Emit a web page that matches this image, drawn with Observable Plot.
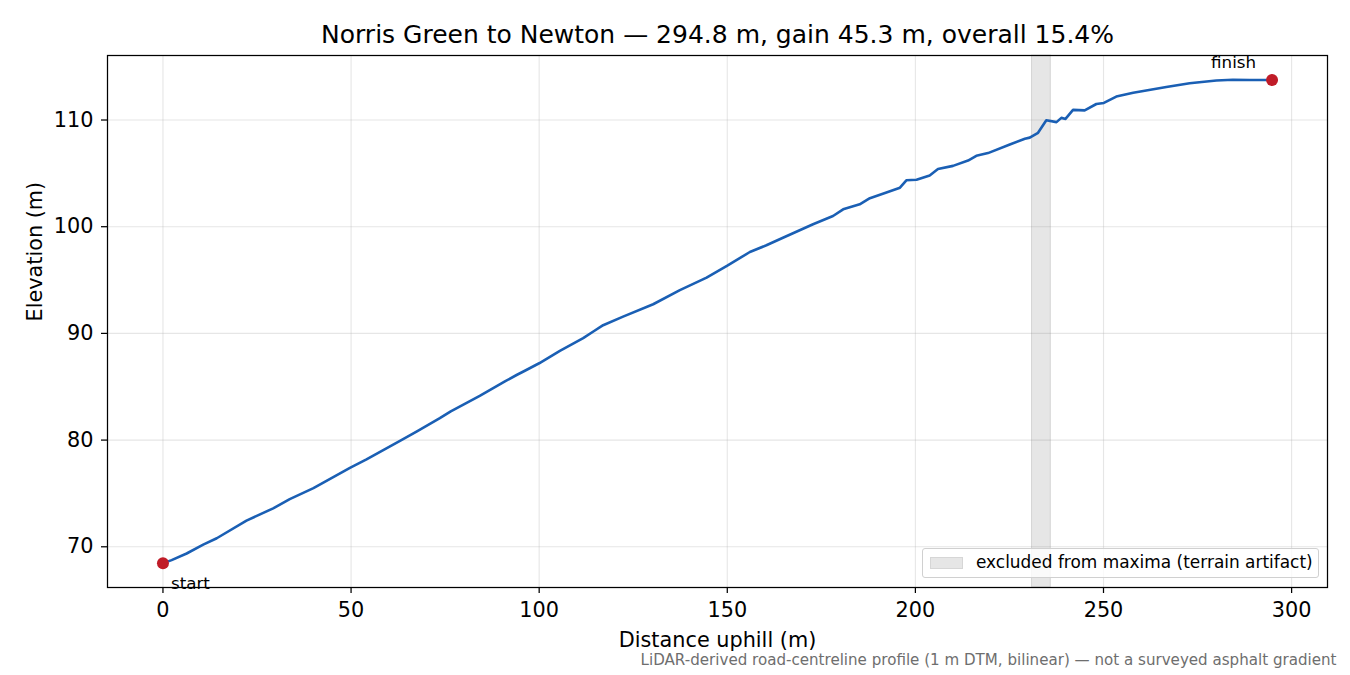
<!DOCTYPE html>
<html>
<head>
<meta charset="utf-8">
<script src="https://cdn.jsdelivr.net/npm/d3@7"></script>
<script src="https://cdn.jsdelivr.net/npm/@observablehq/plot@0.6"></script>
<style>
  html, body { margin: 0; padding: 0; background: white; }
  #wrap { position: relative; width: 1350px; height: 675px; }
  #legend {
    position: absolute; left: 922px; top: 548px; width: 397px; height: 30px;
    border: 1px solid #d0d0d0; border-radius: 3px; background: rgba(255,255,255,0.8);
    font-family: "DejaVu Sans", sans-serif; font-size: 16.95px; color: #000;
    box-sizing: border-box;
  }
  #legend .sw {
    position: absolute; left: 7px; top: 8px; width: 33px; height: 12px;
    background: #e6e6e6; border: 1px solid #d6d6d6; box-sizing: border-box;
  }
  #legend .lb { position: absolute; left: 53px; top: 3px; white-space: nowrap; }
</style>
</head>
<body>
<div id="wrap"></div>
<script>
// Distance uphill (m) and elevation (m)
const dist = [0, 2.3, 6.3, 10.7, 14.3, 22.2, 29.3, 33.7, 40.0, 49.7, 54.1, 63.0, 67.4, 73.6, 76.5,
  84.2, 90.9, 94.0, 96.2, 100, 105.5, 111.7, 114.5, 117.0, 122.3, 130.3, 137.4, 144.5, 149.9,
  156.0, 160.4, 164.8, 172.8, 178.1, 180.8, 185.2, 187.9, 192.3, 195.9, 197.6, 200.3, 203.8,
  206.0, 210.0, 214.0, 216.2, 219.3, 225.1, 229.1, 230.4, 232.6, 234.8, 237.5, 238.8, 239.9,
  241.9, 245.0, 248.1, 250.1, 253.4, 257.9, 266.7, 272.9, 280.0, 284.4, 288.9, 294.8];
const elev = [68.45, 68.75, 69.37, 70.2, 70.8, 72.45, 73.6, 74.47, 75.5, 77.4, 78.2, 79.93, 80.8, 82.05, 82.7,
  84.15, 85.5, 86.1, 86.5, 87.2, 88.36, 89.55, 90.2, 90.77, 91.57, 92.73, 94.05, 95.23, 96.32,
  97.63, 98.26, 98.97, 100.23, 101.0, 101.63, 102.1, 102.67, 103.2, 103.66, 104.35, 104.4, 104.8,
  105.4, 105.7, 106.2, 106.65, 106.9, 107.7, 108.25, 108.35, 108.8, 109.97, 109.8, 110.2, 110.1,
  110.95, 110.9, 111.5, 111.6, 112.2, 112.55, 113.1, 113.45, 113.7, 113.78, 113.75, 113.75];

const endLabels = ["start", "finish"];
const excludedStart = [231];
const excludedEnd = [236];
const xTicks = [0, 50, 100, 150, 200, 250, 300];
const yTicks = [70, 80, 90, 100, 110];
const titleText = "Norris Green to Newton — 294.8 m, gain 45.3 m, overall 15.4%";
const xLabel = "Distance uphill (m)";
const yLabel = "Elevation (m)";
const captionText = "LiDAR-derived road-centreline profile (1 m DTM, bilinear) — not a surveyed asphalt gradient";
const legendText = "excluded from maxima (terrain artifact)";

const profile = dist.map((d, i) => ({d, e: elev[i]}));
const ends = [
  {...profile[0], label: endLabels[0]},
  {...profile[profile.length - 1], label: endLabels[1]}
];
const bands = excludedStart.map((s, i) => ({x1: s, x2: excludedEnd[i]}));

const xr = d3.extent(dist), yr = d3.extent(elev);
const xm = (xr[1] - xr[0]) * 0.05, ym = (yr[1] - yr[0]) * 0.05;

const chart = Plot.plot({
  width: 1350,
  height: 675,
  marginLeft: 107,
  marginRight: 23,
  marginTop: 55,
  marginBottom: 88,
  x: {domain: [xr[0] - xm, xr[1] + xm]},
  y: {domain: [yr[0] - ym, yr[1] + ym]},
  style: {fontFamily: "DejaVu Sans", fontSize: "20.8px", color: "black", background: "white", overflow: "visible"},
  marks: [
    Plot.gridX(xTicks, {stroke: "#b0b0b0", strokeOpacity: 0.32, strokeWidth: 1.1}),
    Plot.gridY(yTicks, {stroke: "#b0b0b0", strokeOpacity: 0.32, strokeWidth: 1.1}),
    Plot.rect(bands, {x1: "x1", x2: "x2", fill: "gray", fillOpacity: 0.2, stroke: "gray", strokeOpacity: 0.25}),
    Plot.line(profile, {x: "d", y: "e", stroke: "#1a5fb4", strokeWidth: 2.6, strokeLinejoin: "round"}),
    Plot.dot(ends, {x: "d", y: "e", r: 6, fill: "#c01c28", stroke: "none"}),
    Plot.text([ends[0]], {x: "d", y: "e", text: "label", dx: 8, dy: 20, textAnchor: "start", lineAnchor: "middle", fontSize: 16.7}),
    Plot.text([ends[1]], {x: "d", y: "e", text: "label", dx: -16, dy: -17, textAnchor: "end", lineAnchor: "middle", fontSize: 16.7}),
    Plot.frame({stroke: "black", strokeWidth: 1.25}),
    Plot.axisX(xTicks, {tickSize: 6, tickPadding: 9, label: null, strokeWidth: 1.25}),
    Plot.axisY(yTicks, {tickSize: 6, tickPadding: 8, label: null, strokeWidth: 1.25}),
    Plot.text([titleText], {text: d => d, frameAnchor: "top", lineAnchor: "middle", dy: -21, fontSize: 25}),
    Plot.text([xLabel], {text: d => d, frameAnchor: "bottom", lineAnchor: "middle", dy: 53, fontSize: 20.8}),
    Plot.text([yLabel], {text: d => d, frameAnchor: "left", lineAnchor: "middle", dx: -72, rotate: -90, fontSize: 20.8}),
    Plot.text([captionText], {text: d => d, frameAnchor: "bottom-right", textAnchor: "end", lineAnchor: "middle", dx: 9, dy: 73, fontSize: 15.1, fill: "#6e6e6e"})
  ]
});

const wrap = document.getElementById("wrap");
wrap.appendChild(chart);
const lg = document.createElement("div");
lg.id = "legend";
lg.innerHTML = '<div class="sw"></div><div class="lb"></div>';
lg.querySelector(".lb").textContent = legendText;
wrap.appendChild(lg);
</script>
</body>
</html>
